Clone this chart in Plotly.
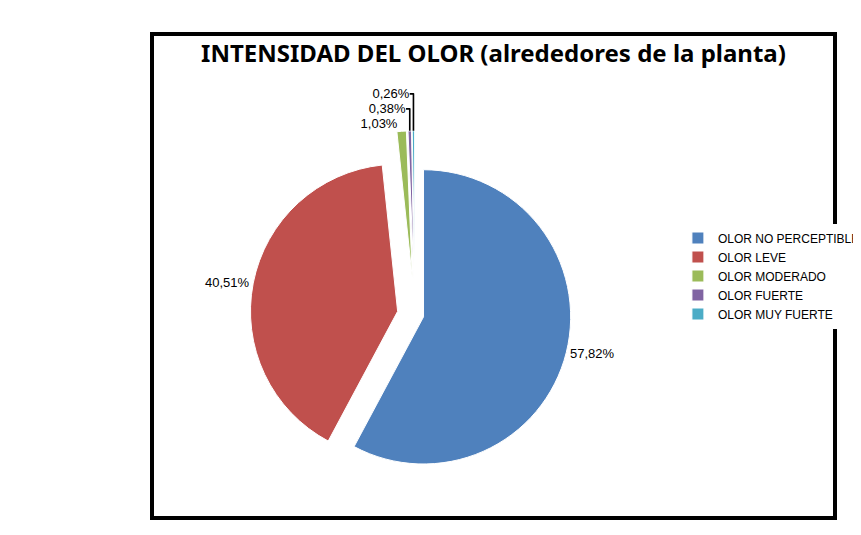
import plotly.graph_objects as go

categories = ["OLOR NO PERCEPTIBLE", "OLOR LEVE", "OLOR MODERADO", "OLOR FUERTE", "OLOR MUY FUERTE"]
values = [57.82, 40.51, 1.03, 0.38, 0.26]
labels_txt = ["57,82%", "40,51%", "1,03%", "0,38%", "0,26%"]
colors = ["#4F81BD", "#C0504D", "#9BBB59", "#8064A2", "#4BACC6"]

fig = go.Figure(go.Pie(
    labels=categories, values=values, text=labels_txt,
    texttemplate="%{text}", textposition="outside",
    sort=False, direction="clockwise", rotation=0,
    marker=dict(colors=colors, line=dict(color="white", width=1)),
    pull=[0.06, 0.12, 0.25, 0.25, 0.25],
    outsidetextfont=dict(size=13, color="black", family="Liberation Sans"),
    domain=dict(x=[0.03, 0.74], y=[0.04, 0.80]),
))
fig.update_layout(
    width=861, height=535,
    paper_bgcolor="white",
    margin=dict(l=4, r=4, t=4, b=4),
    title=dict(text="<b>INTENSIDAD DEL OLOR (alrededores de la planta)</b>",
               x=0.5, xref="paper", xanchor="center", y=0.915, yanchor="middle",
               font=dict(size=24, family="Noto Sans", color="black")),
    legend=dict(x=0.77, y=0.5, yanchor="middle", xanchor="left",
                font=dict(size=12, family="Liberation Sans", color="black")),
    shapes=[dict(type="rect", xref="paper", yref="paper", x0=0, y0=0,
                 x1=1, y1=1, line=dict(color="black", width=4))],
)
fig.write_html("out.html")
